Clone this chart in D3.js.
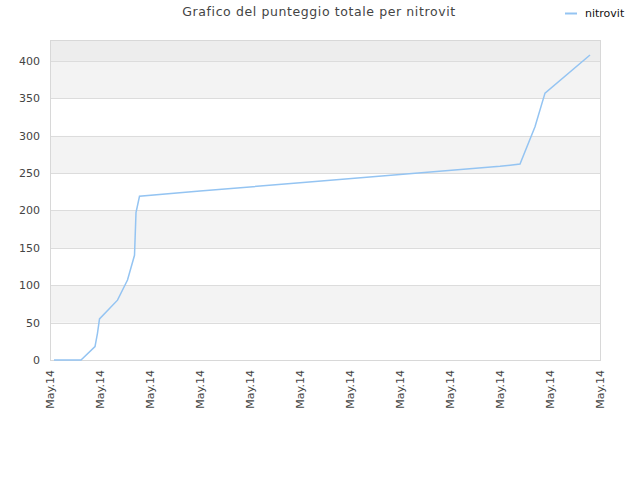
<!DOCTYPE html>
<html>
<head>
<meta charset="utf-8">
<script src="https://cdn.jsdelivr.net/npm/d3@7"></script>
<style>
  body { margin: 0; background: #fff; }
  svg text { font-family: "DejaVu Sans", sans-serif; }
</style>
</head>
<body>
<div id="chart"></div>
<script>
// data
const xTickLabels = ["May.14", "May.14", "May.14", "May.14", "May.14", "May.14",
  "May.14", "May.14", "May.14", "May.14", "May.14", "May.14"];
const times = [0.08, 0.62, 0.9, 0.95, 0.99, 1.35, 1.55, 1.69, 1.72, 1.79, 3.0, 5.0, 7.0, 9.0, 9.4, 9.7, 9.9, 10.8];
const scores = [0, 0, 18, 36, 55, 80, 107, 140, 197, 219, 226, 237, 248, 259, 262, 312, 357, 408];
const yTicks = [0, 50, 100, 150, 200, 250, 300, 350, 400];
const seriesName = "nitrovit";
const title = "Grafico del punteggio totale per nitrovit";

const width = 640, height = 480;
const margin = { top: 40, right: 40, bottom: 120, left: 50 };
const w = width - margin.left - margin.right;
const h = height - margin.top - margin.bottom;

const svg = d3.select("#chart").append("svg")
  .attr("width", width)
  .attr("height", height);

const g = svg.append("g")
  .attr("transform", "translate(" + margin.left + "," + margin.top + ")");

const x = d3.scaleLinear().domain([0, xTickLabels.length - 1]).range([0, w]);
const y = d3.scaleLinear().domain([0, 428]).range([h, 0]);

// alternating bands
const bands = [];
for (let i = 0; i < yTicks.length; i++) {
  const lo = yTicks[i];
  const hi = i + 1 < yTicks.length ? yTicks[i + 1] : y.domain()[1];
  bands.push({ lo: lo, hi: hi, i: i });
}
g.selectAll(".band")
  .data(bands)
  .enter()
  .append("rect")
  .attr("x", 0)
  .attr("width", w)
  .attr("y", d => y(d.hi))
  .attr("height", d => y(d.lo) - y(d.hi))
  .attr("fill", d => d.i === yTicks.length - 1 ? "#ededed" : (d.i % 2 === 1 ? "#f3f3f3" : "#ffffff"));

// grid lines
g.selectAll(".grid")
  .data(yTicks)
  .enter()
  .append("line")
  .attr("x1", 0)
  .attr("x2", w)
  .attr("y1", d => Math.round(y(d)) + 0.5)
  .attr("y2", d => Math.round(y(d)) + 0.5)
  .attr("stroke", "#dcdcdc");

// frame
g.append("rect")
  .attr("x", 0.5)
  .attr("y", 0.5)
  .attr("width", w)
  .attr("height", h)
  .attr("fill", "none")
  .attr("stroke", "#d8d8d8");

// y axis
const yAxis = g.append("g")
  .call(d3.axisLeft(y).tickValues(yTicks).tickSize(0).tickPadding(10));
yAxis.select(".domain").remove();
yAxis.selectAll("text")
  .attr("fill", "#444")
  .style("font-size", "11px");

// x axis
const xAxis = g.append("g")
  .attr("transform", "translate(0," + h + ")")
  .call(d3.axisBottom(x)
    .tickValues(d3.range(xTickLabels.length))
    .tickFormat(i => xTickLabels[i])
    .tickSize(0));
xAxis.select(".domain").remove();
xAxis.selectAll("text")
  .attr("fill", "#444")
  .style("font-size", "11px")
  .attr("text-anchor", "end")
  .attr("transform", "rotate(-90)")
  .attr("x", -10)
  .attr("y", 0)
  .attr("dy", "0.35em");

// line
const pts = times.map((t, i) => ({ t: t, v: scores[i] }));
g.append("path")
  .datum(pts)
  .attr("fill", "none")
  .attr("stroke", "#94c4f2")
  .attr("stroke-width", 1.5)
  .attr("d", d3.line().x(d => x(d.t)).y(d => y(d.v)));

// title
svg.append("text")
  .attr("x", 319)
  .attr("y", 16)
  .attr("text-anchor", "middle")
  .attr("fill", "#444")
  .style("font-size", "12.5px")
  .style("letter-spacing", "0.6px")
  .text(title);

// legend
svg.append("line")
  .attr("x1", 565)
  .attr("x2", 577)
  .attr("y1", 13.5)
  .attr("y2", 13.5)
  .attr("stroke", "#94c4f2")
  .attr("stroke-width", 2);
svg.append("text")
  .attr("x", 585)
  .attr("y", 17)
  .attr("fill", "#111")
  .style("font-size", "11px")
  .text(seriesName);
</script>
</body>
</html>
